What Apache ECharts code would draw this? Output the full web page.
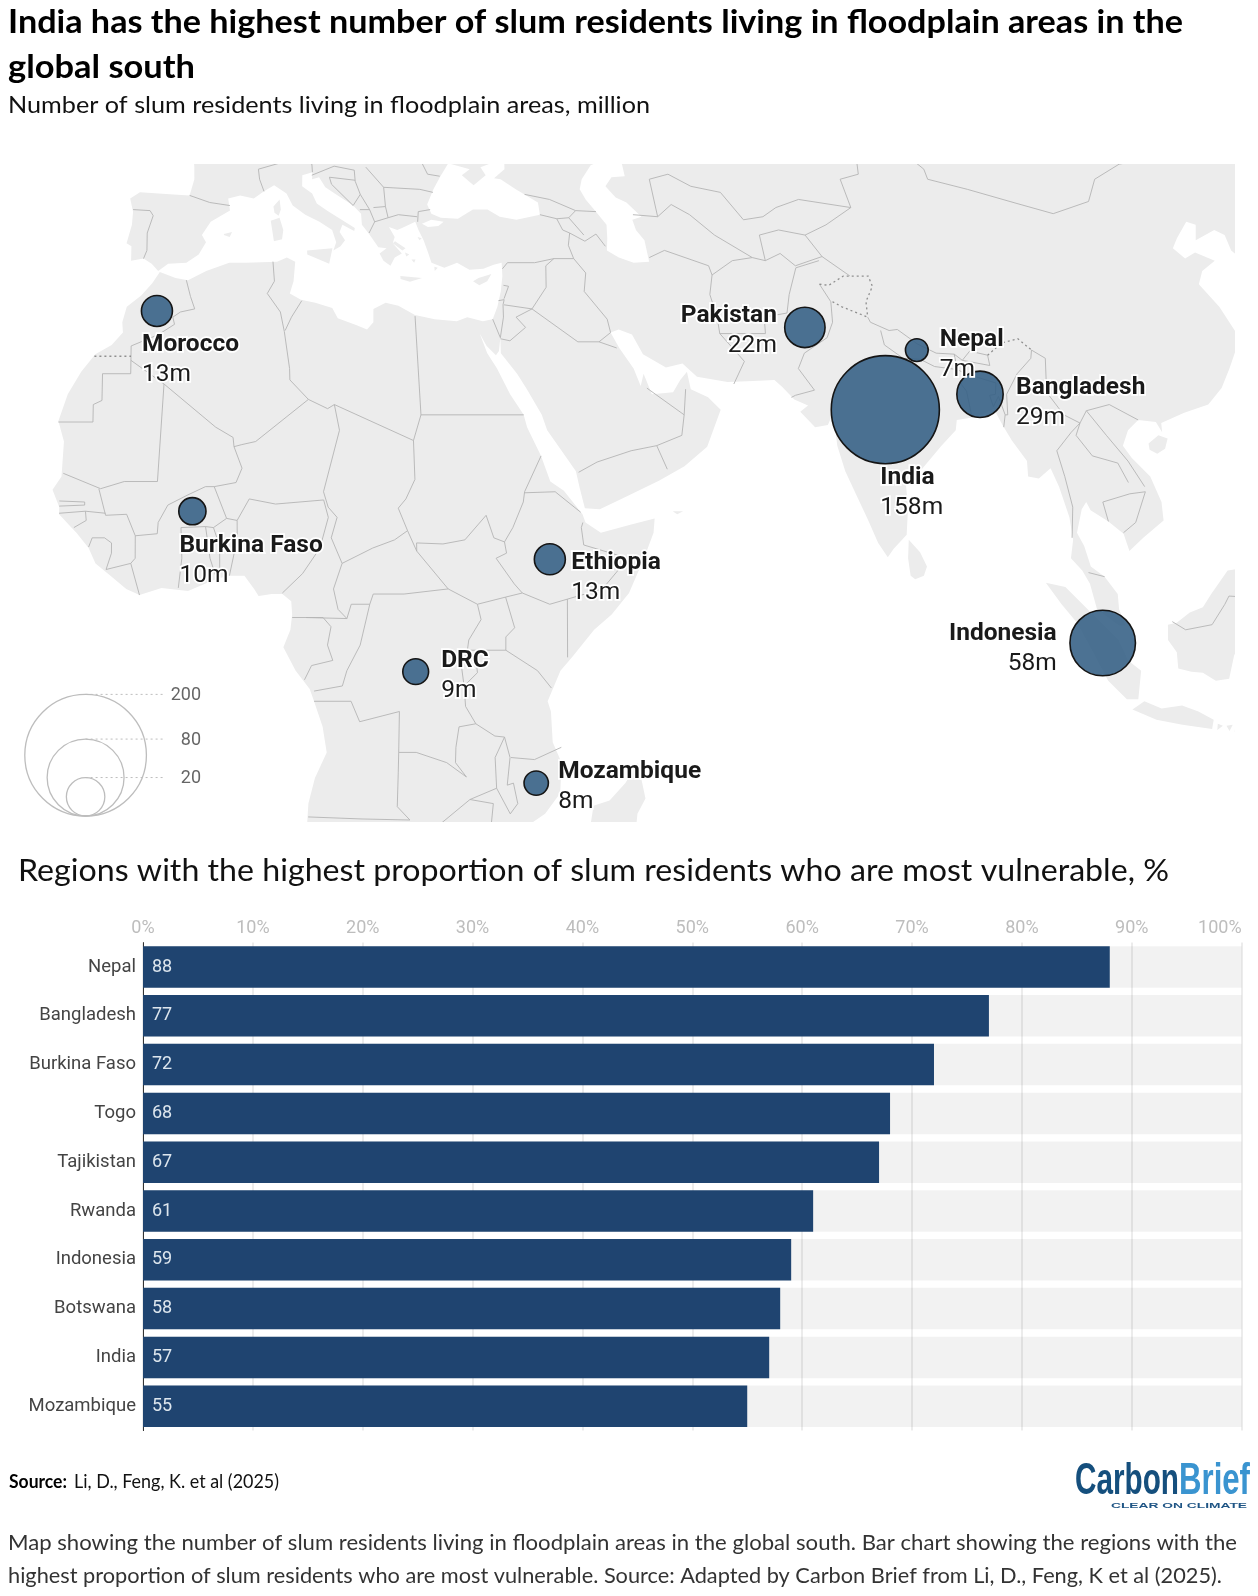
<!DOCTYPE html>
<html>
<head>
<meta charset="utf-8">
<script src="https://cdn.jsdelivr.net/npm/echarts@6/dist/echarts.min.js"></script>
<style>
  html, body { margin: 0; background: #fff; }
  #main { width: 1258px; height: 1596px; }
</style>
</head>
<body>
<div id="main"></div>
<script>
// map values, million people
const mapCountries = ['Morocco', 'Burkina Faso', 'Ethiopia', 'DRC', 'Mozambique', 'Pakistan', 'India', 'Nepal', 'Bangladesh', 'Indonesia']
const mapLon = [-5.7, -1.5, 39.1, 23.8, 37.8, 71.1, 78.9, 83.8, 90.2, 101.6]
const mapLat = [32.1, 12.6, 7.9, -3.1, -14.0, 30.5, 22.5, 28.3, 24.0, -0.3]
const mapMillions = [13, 10, 13, 9, 8, 22, 158, 7, 29, 58]
const sizeKey = [200, 80, 20]

// bar values, %
const barCountries = ['Nepal', 'Bangladesh', 'Burkina Faso', 'Togo', 'Tajikistan', 'Rwanda', 'Indonesia', 'Botswana', 'India', 'Mozambique']
const barValues = [88, 77, 72, 68, 67, 61, 59, 58, 57, 55]

// label placement relative to each bubble, same order as mapCountries
const labelDx = [-15, -13, 21.5, 25.5, 22, -28, -5, 23, 36, -46]
const labelDy = [18.5, 19.5, -11.5, -25.5, -26.5, -26.5, 53.5, -25.5, -21.5, -24.5]
const labelAlign = ['left', 'left', 'left', 'left', 'left', 'right', 'left', 'left', 'left', 'right']

// base map, rough hand outline in lon/lat
const mainland = [[-5,56],[-1.5,50],[-1.2,46.2],[-1.2,45],[-1.8,43.4],[-3.8,43.5],[-8,43.7],[-9.2,43.1],[-8.8,41.8],[-8.9,40.5],[-9.5,38.7],[-8.9,38.4],[-8.9,37],[-7.4,37.2],[-6.4,36.7],[-5.6,36],[-4.4,36.7],[-2.2,36.8],[-0.7,37.6],[0.2,38.8],[-0.3,39.5],[0.8,40.8],[3.2,41.9],[3,43.1],[4.5,43.4],[6.2,43.1],[7.5,43.8],[8.8,44.4],[10.3,43.6],[11,42.4],[12.5,41.5],[14.2,40.8],[15.7,40],[16.1,38.8],[15.7,38],[16.6,38.4],[17.2,39],[16.6,39.8],[17,40.5],[18.4,39.9],[18.5,40.2],[16,41.5],[15.2,41.9],[14,42.6],[13.5,43.6],[12.3,44.3],[12.4,45.4],[13.7,45.7],[13.6,45],[14.5,45.2],[15.2,44.2],[16.5,43.5],[18.5,42.4],[19.4,41.6],[19.4,40.5],[20.2,39.6],[21.2,38.3],[22.2,38.2],[21.3,37.7],[21.7,37],[22.5,36.5],[23.1,37.3],[24,37.7],[23,38.7],[23.3,39.3],[22.7,40.3],[23.7,40],[24.3,40.2],[26,40.8],[26.3,40],[26.8,39],[27.2,37.8],[27.5,36.8],[29,36.3],[30.6,36.8],[32,36.1],[33.7,36.2],[35,36.6],[36,36.8],[35.9,35.5],[35.5,34],[34.9,32.5],[34.2,31.3],[33,31.1],[31.2,31.5],[29.9,31.1],[27.3,31.3],[25,31.7],[23.1,32.6],[21.6,32.9],[20.1,32.3],[20,31],[19.2,30.3],[18,30.7],[15.8,31.4],[15.2,32.4],[13.2,32.9],[11.5,33.2],[10.2,33.8],[10.7,35],[11,36.9],[10,37.3],[8.8,36.9],[5,36.8],[3,36.8],[0.2,36],[-2,35.1],[-3.5,35.3],[-5.4,35.9],[-6.3,34.8],[-7.6,33.6],[-9.3,32.5],[-9.8,31],[-9.7,30],[-11,28.8],[-12.9,27.9],[-14.5,26.2],[-16,24],[-17,21.4],[-16.3,19.4],[-16.5,16],[-17.5,14.7],[-16.7,13],[-16.7,12.3],[-15.5,11.2],[-14.7,10.5],[-13.3,9],[-12.5,7.5],[-10.8,6.3],[-9,5],[-7.5,4.4],[-5,5.1],[-2,4.8],[1,5.9],[2.5,6.3],[4.4,6.3],[5.5,5],[6,4.3],[7.5,4.5],[8.7,4.5],[9.7,3.8],[9.8,2.5],[9.6,1],[8.8,-0.7],[10.2,-3],[11.8,-4.8],[12.3,-6],[13.3,-8.5],[13.8,-11],[12.5,-13.5],[11.8,-16],[11.7,-18],[12,-21],[36,-21],[35,-19.5],[36.5,-18.5],[39,-17],[40.6,-15],[40.6,-12],[39.5,-10],[39.2,-7],[38.8,-6],[39.5,-4.5],[40.2,-3],[41.5,-1.7],[44,1],[46,2.5],[48,4.6],[49.8,8],[51,10.5],[51.2,11.9],[48.5,11.3],[45,10.5],[43.3,11.5],[43,12.3],[41,14.6],[39.5,15.5],[38.6,18],[37.2,20.8],[36.9,22],[35.5,24],[34.2,26.5],[33.2,28],[32.5,29.9],[33.2,28.7],[34.2,27.8],[34.6,28.2],[34.9,29.5],[34.8,28],[36.5,26],[37.5,24.5],[39,22],[39.5,20.5],[41,18.5],[42.5,16.5],[42.8,15],[43.3,12.9],[45,12.8],[48,14],[52,15.6],[55,17],[57.8,18.9],[59.8,22.5],[58.5,23.7],[56.6,24.5],[56.4,26.2],[55.5,25.4],[54.5,24.2],[52,24],[51.3,26],[50.8,24.8],[50.2,26.5],[48.8,28.5],[48,30],[49,30.3],[50.5,29.8],[51.5,27.9],[54,26.6],[56,27],[57.5,25.7],[61,25.2],[64,25.3],[66.5,25.4],[67.3,24.7],[68.5,23.5],[70,22.9],[69,22.3],[70.5,20.8],[72,21],[72.6,21.9],[72.8,20.5],[72.8,19],[73.4,16.5],[74.5,14],[75.5,11.8],[76.5,9.5],[77.5,8.1],[78.2,8.9],[79.8,10.3],[80.2,13],[80.2,15.5],[82.2,16.7],[84.8,19],[86.7,20.5],[87,21.5],[88.5,21.7],[90,22],[91.5,22.6],[92.2,21],[93,19.5],[94.4,17.5],[94.3,16],[95.5,15.8],[97,16.8],[97.7,15],[98.5,12],[98.7,9.8],[98.3,8],[99.5,6.8],[100.3,5.5],[101,3],[103.5,1.4],[104.2,1.4],[103.5,3],[103.4,4.5],[102,6.2],[100.5,7.2],[99.9,9.2],[99.2,10.5],[100,12.8],[100.6,13.5],[101,12.7],[102.9,11.6],[104.5,10.4],[105,8.7],[106.7,10],[109.2,11.7],[109.2,13.5],[108.3,16],[106.5,17.8],[105.7,19],[106.6,20.5],[108,21.5],[110,21.3],[110.5,20.3],[110.6,21.2],[113.5,22.2],[116.5,23],[118.5,24.6],[120,26.5],[121.5,28.5],[122,30],[121,32.5],[119.5,34.7],[120.5,36],[122.5,37],[120.5,37.8],[119,37.2],[118,38.2],[119,39.2],[121,40.8],[122,40.5],[121.2,39],[124,40],[125,39.5],[125,38],[126,37],[126.5,34],[135,33],[135,56]]

const islands = [
  [[2.4,39.6],[3.4,39.8],[3.1,39.3],[2.4,39.5]],
  [[8.2,40.9],[9.3,41.2],[9.7,40],[9.5,39.1],[8.5,38.9]],
  [[8.6,42.3],[9.4,43],[9.5,42],[9.2,41.4],[8.7,41.7]],
  [[12.5,38],[15.6,38.2],[15.1,36.7],[12.5,37.6]],
  [[23.6,35.5],[26.2,35.3],[24.7,34.95],[23.6,35.2]],
  [[23.3,38.9],[24.5,38.2],[24.1,38],[23,38.7]],
  [[26.1,39.3],[26.6,39.2],[26.3,39]],
  [[25.1,37.1],[25.6,37.1],[25.4,36.8]],
  [[24.4,37.8],[24.9,37.6],[24.5,37.4]],
  [[27.8,36.4],[28.2,36.3],[27.8,36]],
  [[32.3,35],[33,35.3],[34.6,35.7],[34,35],[33,34.6]],
  [[53.3,12.6],[54.5,12.6],[53.8,12.3]],
  [[80,9.8],[81.2,8.6],[81.9,7.2],[81.5,6.3],[80.5,5.95],[80,6.3],[79.8,8]],
  [[95.3,5.6],[97.5,5.2],[100.3,2.7],[103.4,0],[104.5,-2],[106,-3],[105.8,-5.8],[104.5,-5.8],[102.3,-4],[100.4,-1],[98.7,1.7],[97,3.5]],
  [[105.2,-6.8],[106.5,-6],[108.5,-6.7],[110.8,-6.4],[112.7,-7],[114.5,-7.8],[114.4,-8.7],[111,-8.3],[108,-7.8]],
  [[115,-8.2],[115.6,-8.4],[115,-8.8]],
  [[116,-8.4],[116.7,-8.3],[116.4,-8.9]],
  [[117,-8.4],[119,-8.3],[119,-8.8],[117,-9]],
  [[109,1.5],[110,1.7],[111.5,2.7],[113,3.2],[114,4.5],[116,6.8],[117.5,7],[119,5.2],[118,4.2],[118,2.2],[119,1],[117.5,0],[116.5,-1.5],[116,-3.8],[114.5,-4],[113,-3.2],[111.7,-3.1],[110.2,-2.8],[110,-1.2],[109,0]],
  [[108.7,19.2],[110,20],[111,19.7],[110.5,18.7],[109.5,18.2],[108.7,18.6]],
  [[49.3,-12],[50.4,-15.5],[49.6,-17],[49.5,-21],[44,-21],[44.5,-16.2],[46.3,-15.7],[48,-14]]
]

const inlandSeas = [
  [[27.7,42.5],[28.1,41.6],[29.2,41.2],[31.3,41.1],[33.3,42],[35.1,42],[36.5,41.3],[38.5,41],[41.5,41.5],[41.5,42.7],[39,44],[37.3,45],[36.5,45.1],[38,46],[38.2,47.1],[35,46.2],[35.5,45.4],[33.8,44.4],[32.5,45.4],[33.6,46],[31,46.6],[29.7,45.2],[28.7,44]],
  [[47.5,45],[47,44],[47.5,43],[48.5,41.8],[49.5,40.5],[49.3,39.2],[49,38],[50.3,37.3],[52,36.8],[53.9,36.9],[53.8,39],[53,40],[52.8,41],[54,41.3],[52.5,42.7],[51.3,43.2],[50.3,44.3],[51.3,45.2],[53,45.3],[53,46.8],[51,47],[49,46.4]],
  [[26.8,40.6],[28,41],[29.5,40.8],[28.8,40.4],[27.5,40.3]]
]

const borders = [
  // north and west africa
  [[-2.2,35.1],[-1.7,33.5],[-1.2,32.3],[-2.9,32],[-3.8,31.5],[-3.6,30.8],[-5.5,29.8],[-8.7,28.7]],
  [[-8.7,28.7],[-8.7,26],[-12,26],[-12,23.4],[-13,23],[-13,21.3],[-17,21.3]],
  [[-8.7,27.3],[-4.8,25],[1.2,20.8],[3.2,19.8],[3.3,18.9],[4.2,19.1],[5.8,19.4],[12,23.5],[9.9,25.4],[9.9,26.5],[9.4,30.1],[9,32],[7.5,33.8],[8.4,35],[8.3,36.9]],
  [[-4.8,25],[-5.5,15.5],[-9.3,15.5],[-12,14.8],[-16.3,16.3]],
  [[9.5,30.2],[10.3,31.5],[11.6,33.1]],
  [[3.3,18.9],[4.2,16.8],[3.5,15.4],[1,15],[0,15],[-2,14.2],[-4.3,13.2],[-5.4,11.5],[-5.5,10.4],[-8,10.2],[-9,12.3],[-11.4,12.2],[-12.2,14.8]],
  [[12,23.5],[14.2,22.6],[15,23],[24,19.5],[25,22],[25,31.6]],
  [[25,22],[36.9,22]],
  [[15,23],[15.5,20.5],[13.5,14.5],[14,13],[15,12],[14.3,10],[15.5,7.5],[14.5,5],[15,3],[16,2.1]],
  [[24,19.5],[24,15.7],[22.9,13.8],[22,12.9],[23,10.7],[21.5,9.8],[19,9],[15.5,7.5]],
  [[2.7,6.3],[3.6,9.9],[3.6,11.7],[5,13.8],[8,13.3],[13.5,13.7],[14,12],[13,9],[11,6.5],[8.7,4.6]],
  [[9.8,2.2],[11.3,2.2],[16,2.1],[16.5,3.5],[18.6,3.5]],
  [[1.6,6.2],[1.6,9.2],[0.9,11]],
  [[1.2,6.1],[0.5,8],[0,11.1]],
  [[-3.1,5.1],[-2.7,8],[-2.8,11],[0,11.1],[0.9,11],[2.4,11.9],[3.6,11.7]],
  [[1,15],[2.4,11.9]],
  [[-8,10.2],[-8,8],[-8.5,7.5],[-7.5,4.4]],
  [[-8.5,7.5],[-11.3,6.9],[-10.7,8.5],[-10.7,9.5],[-11.5,10],[-12.9,10],[-13.3,9.1]],
  [[-11.4,12.4],[-13.7,12.6],[-16.7,12.4]],
  [[-13.7,12.6],[-13.6,11.7],[-15,11]],
  [[-16.7,13.6],[-13.8,13.5],[-13.8,13.2],[-16.7,13.1]],
  // central and east africa
  [[23,10.7],[24,8.7],[27.5,5],[30.8,3.5],[34,4.2],[35.9,4.6],[39,3.5],[41,4],[45,5],[48,8],[43,9.3],[42.8,11],[43,11.5]],
  [[18.6,3.5],[19,4.5],[22.5,4.5],[27.5,5]],
  [[18.6,3.5],[17.5,-0.5],[16,-3],[15.5,-4.5],[12.3,-5]],
  [[11.3,2.2],[13.3,2.2],[14.2,1.3],[13.8,-0.5],[14.4,-2],[12,-2.5],[11.2,-3.9]],
  [[24,8.7],[24,9.5],[27,9.4],[29.5,9.8],[32,12.2],[32.8,10],[34,9.6]],
  [[34,9.6],[35,11],[36.3,13.5],[36.5,14.5],[38.6,18]],
  [[36.5,14.4],[40,14.5],[42.8,12.5]],
  [[34,9.6],[34.2,8.5],[33,8],[35,5.5],[35.9,4.6]],
  [[41,4],[41,-1.7]],
  [[34,4.2],[35,1.2],[34,0.3],[34,-1]],
  [[30.8,3.5],[31.2,2],[29.8,0],[29.6,-1.3],[29,-2.7],[29.3,-4.5],[29.5,-6.5],[30.7,-8.2],[28.8,-8.5],[28.5,-10.5],[28.5,-12],[29.8,-13.4],[27.5,-12],[24,-11],[22,-11],[22,-7],[17.5,-8],[16.5,-6],[12.3,-6]],
  [[30,-1],[34,-1],[37.6,-3],[39.2,-4.7]],
  [[29.3,-4.5],[30.8,-3.2],[30.5,-1.1]],
  [[22,-11],[22,-13],[22,-16.3],[23.5,-17.6],[18,-17.5],[11.8,-17.3]],
  [[30.7,-8.2],[32.9,-9.4],[34,-9.5],[34.7,-11.5],[34.5,-14.2],[35.2,-14],[35.8,-16],[35,-17],[33.3,-14.5],[33,-11.5],[34,-9.5]],
  [[34.8,-11.5],[37.5,-11.7],[40.5,-10.5]],
  [[33.3,-14.5],[30.3,-15.6],[33,-16],[32.8,-19.5]],
  [[30.3,-15.6],[27,-18],[25.5,-18.2]],
  // middle east and caucasus
  [[34.2,31.3],[34.9,29.5],[35.5,31.5],[35.6,32.7],[35.8,33.2],[35.1,33.1]],
  [[35.9,34.6],[36.5,34.5],[35.8,33.3]],
  [[35.7,32.7],[39,32.3],[37,31.5],[38,30.5],[36,29.2],[34.9,29.4]],
  [[39,32.3],[41,34.4],[41.3,36.5],[42.4,37.2],[40,36.8],[36.7,36.8],[36,36.2]],
  [[39,32.3],[44,29.1],[46.5,29.1],[48.5,28.5]],
  [[46.5,29.1],[48,30],[47.8,31.3],[45.5,34],[46,35.8],[44.8,37.2],[42.4,37.2]],
  [[44.8,37.2],[44.4,38.5],[44.8,39.7],[46.5,38.9],[48,39.6],[48.9,38.4]],
  [[41.5,41.5],[43.5,41.1],[44,40],[44.8,39.7]],
  [[43.5,41.1],[45,41.2],[46.5,39.5]],
  [[40,43.5],[43,43],[46,41.9],[48.5,41.8]],
  [[45,41.2],[46,41.9]],
  [[51.5,24.6],[55.5,22],[55,20],[52,19],[53,16.7]],
  [[45,17.4],[49,18.5],[52,19]],
  [[42.8,16.4],[45,17.4]],
  [[55.5,22],[56,24.5]],
  // europe
  [[28,42],[26.5,41.8],[26.3,40.8]],
  [[26.3,41.3],[24,41.5],[22.7,41.2],[21,40.8],[20.2,39.7]],
  [[21,40.8],[20.5,42],[19.3,42]],
  [[22.7,41.2],[22.5,42.3],[21,42.2]],
  [[22.5,42.3],[22.5,44.2],[27,44],[28.6,43.7]],
  [[19,44.8],[19.5,43.5],[18.5,42.4],[16,44.5],[15.8,45.2],[19,44.9]],
  [[19.5,43.5],[20.5,42]],
  [[13.6,45.4],[16.5,46.3],[19,45.9],[19,44.8]],
  [[22.5,44.2],[20.5,46.2]],
  [[7.5,43.8],[7,45],[6.9,46],[10.5,46.8],[12.3,47],[13.7,46.5],[13.7,45.7]],
  [[-1.8,43.4],[0.7,42.7],[3.2,42.4]],
  [[-8.8,42],[-6.7,41.9],[-6.3,41.4],[-7,39.7],[-7,38],[-7.4,37.2]],
  [[29.7,45.3],[28.2,45.5],[27,48]],
  // central asia
  [[54,37.3],[56,38],[61,36.5],[61.2,35.6],[60.5,33.7],[60.9,31.5],[60.9,29.9],[63.3,27.2],[61.7,25]],
  [[60.9,29.9],[66.3,29.9],[66.5,31.5],[69.3,31.9],[70,33.7],[71.5,36.3],[74.5,37]],
  [[61.2,35.6],[64,37],[66.5,37.3],[68,37],[70,37.7],[71.5,36.5]],
  [[53,41.5],[56,41.3],[58,42.5],[60,41.5],[62.5,39.5],[66.5,37.3]],
  [[56,45],[56,41.3]],
  [[56,45],[58.5,45.5],[61,44.3],[64.5,43.7],[66.5,41],[69,41.3],[70.9,42.2],[74,43],[80.2,42.2],[80,45],[82.5,45.5],[83,47.2],[85.5,47.2],[87.3,49]],
  [[68,37],[68,39.5],[70.5,40],[73.6,39.5],[75,37.4],[71.5,36.5]],
  [[73.6,39.5],[76.5,40.5],[80.2,42.2]],
  [[87.8,49],[91,46],[91,45],[95.5,44],[101,42.6],[105,41.6],[110,42.8],[112,45],[116,46.5],[119.8,47],[120,49]],
  // south asia
  [[73.9,34.7],[74.8,33],[74.5,31],[73.5,29.5],[70.5,28],[69.5,26.5],[71,24.4],[68.7,23.9],[68.2,23.7]],
  [[75,37.4],[77.8,35.5]],
  [[78.8,31.5],[79,31],[81,30.2],[82,30.3],[84,28.9],[86,28],[88.1,27.9],[88.9,27.3],[90,28.2],[92,27.8],[92,26.8],[88.9,27.3]],
  [[80,30.2],[80.1,28.8],[82,27.5],[84,27.4],[85.5,26.7],[88.1,26.4],[88.1,27.9]],
  [[88.1,26.4],[89,26],[88.2,25],[88.7,24.3],[88.8,22]],
  [[89,26],[92.3,25.1],[92,24],[91.3,23.9],[91.5,22.8],[92.3,23.8],[92.7,22],[92.3,20.8]],
  [[92.7,22],[93,22],[93.3,24],[95,26],[97,27.5],[97.3,28.3],[98.7,27.5],[98,24.2],[99.5,22],[101.2,21.2]],
  // south east asia
  [[101.2,21.2],[100,20.3],[98,18.5],[98.5,16],[99,13],[98.6,10]],
  [[101.2,21.2],[100.5,20],[102,18],[104.8,17.3],[105.7,15.4]],
  [[102.2,22.4],[104,20],[106,17.5],[107.5,15]],
  [[101.2,21.2],[102.2,22.4],[105,23],[108,21.5]],
  [[102.9,11.6],[102.5,13.5],[105.7,14.3],[107.5,14.5],[106,11.5],[104.5,10.5]],
  [[100.2,6.6],[102,6.2]],
  [[109.5,1.8],[111,1],[114,1.5],[115.5,3.5],[116,4.3],[118,4.2]]
]

// disputed borders, drawn dotted
const disputed = [
  [[73.9,34.7],[75,34.6],[77,35.5],[78,35.5],[80,35.5],[80.2,34.5],[79,33],[78.8,31.5]],
  [[75,33],[76,32.5],[78.8,31.5]],
  [[92,27.8],[94,29],[96,29.4],[97.3,28.3]],
  [[-13,27.7],[-8.7,27.7]]
]

// Natural Earth projection, scaled to page pixels. y comes back negated
// because geo flips latitude on its own
const CENTER_LON = -2
const MAP_X = 188
const MAP_Y = 640
const MAP_SCALE = 581
function project(lon, lat) {
  const phi = lat * Math.PI / 180
  const p2 = phi * phi
  const p4 = p2 * p2
  const kx = 0.8707 - 0.131979 * p2 + p4 * (-0.013791 + p4 * (0.003971 * p2 - 0.001529 * p4))
  const ky = 1.007226 + p2 * (0.015085 + p4 * (-0.044475 + 0.028874 * p2 - 0.005916 * p4))
  return [MAP_X + MAP_SCALE * (lon - CENTER_LON) * Math.PI / 180 * kx, -(MAP_Y - MAP_SCALE * phi * ky)]
}
const projectLine = line => line.map(p => project(p[0], p[1]))

echarts.registerMap('base', {
  type: 'FeatureCollection',
  features: [
    { type: 'Feature', properties: { name: 'land' },
      geometry: { type: 'MultiPolygon', coordinates: [mainland].concat(islands).map(r => [projectLine(r)]) } },
    { type: 'Feature', properties: { name: 'sea' },
      geometry: { type: 'MultiPolygon', coordinates: inlandSeas.map(r => [projectLine(r)]) } }
  ]
})

const bubbleSize = v => 8.6 * Math.sqrt(v)

// text is squeezed to the measured width, none of the fonts here has the PT Sans widths
const ctx = document.createElement('canvas').getContext('2d')
function text(str, x, baseline, size, family, fill, width, weight) {
  const font = `${weight || 'normal'} ${size}px ${family}`
  ctx.font = font
  const el = {
    type: 'text', z: 20, x: x, y: baseline - size * 0.33,
    style: { text: str, font: font, fill: fill, textVerticalAlign: 'middle' }
  }
  if (width) el.scaleX = width / ctx.measureText(str).width
  return el
}

const SANS = 'Lato'
const LOGO = '"Liberation Sans"'
const graphics = [
  // masks that crop the land to the map frame
  { type: 'rect', z: 5, shape: { x: 0, y: 0, width: 1258, height: 164 }, style: { fill: '#fff' } },
  { type: 'rect', z: 5, shape: { x: 0, y: 822, width: 1258, height: 70 }, style: { fill: '#fff' } },
  { type: 'rect', z: 5, shape: { x: 1235, y: 160, width: 23, height: 670 }, style: { fill: '#fff' } },

  text('India has the highest number of slum residents living in floodplain areas in the', 8, 33, 33, SANS, '#000', 1175, 'bold'),
  text('global south', 8, 78, 33, SANS, '#000', 187, 'bold'),
  text('Number of slum residents living in floodplain areas, million', 8, 113, 23, SANS, '#111', 642),
  text('Regions with the highest proportion of slum residents who are most vulnerable, %', 18, 881, 31, SANS, '#111', 1151),
  text('Source:', 9, 1488, 18.5, SANS, '#000', 58, 'bold'),
  text('Li, D., Feng, K. et al (2025)', 74, 1488, 18.5, SANS, '#111', 205),
  text('Map showing the number of slum residents living in floodplain areas in the global south. Bar chart showing the regions with the', 8, 1550, 21.5, SANS, '#333', 1229),
  text('highest proportion of slum residents who are most vulnerable. Source: Adapted by Carbon Brief from Li, D., Feng, K et al (2025).', 8, 1583, 21.5, SANS, '#333', 1214),
  text('Carbon', 1075, 1496, 45, LOGO, '#154f7d', 104, 'bold'),
  text('Brief', 1179, 1496, 45, LOGO, '#3a94d0', 71, 'bold'),
  text('CLEAR ON CLIMATE', 1111, 1508, 6.5, LOGO, '#1f5585', 136, 'bold')
]

// size key in the map corner
const KEY_X = 85.6
const KEY_BOTTOM = 816
sizeKey.forEach(v => {
  const r = bubbleSize(v) / 2
  graphics.push({
    type: 'circle', z: 20, shape: { cx: KEY_X, cy: KEY_BOTTOM - r, r: r },
    style: { fill: 'none', stroke: '#bdbdbd', lineWidth: 1.3 }
  })
  graphics.push({
    type: 'line', z: 20, shape: { x1: KEY_X, y1: KEY_BOTTOM - 2 * r, x2: 163, y2: KEY_BOTTOM - 2 * r },
    style: { stroke: '#bdbdbd', lineWidth: 1, lineDash: [2, 3] }
  })
  graphics.push({
    type: 'text', z: 20, x: 201, y: KEY_BOTTOM - 2 * r + 1,
    style: { text: String(v), font: '18px Roboto', fill: '#666', textAlign: 'right', textVerticalAlign: 'middle' }
  })
})

const bubbleData = mapCountries.map((name, i) => ({
  name: name,
  value: project(mapLon[i], mapLat[i]).concat(mapMillions[i]),
  label: {
    offset: [labelDx[i], labelDy[i]],
    align: labelAlign[i],
    rich: {
      b: { fontFamily: 'Roboto', fontWeight: 'bold', fontSize: 24.5, lineHeight: 30, color: '#1a1a1a', align: labelAlign[i], textBorderColor: '#fff', textBorderWidth: 3.5 },
      v: { fontFamily: 'Roboto', fontSize: 24.5, lineHeight: 30, color: '#1a1a1a', align: labelAlign[i], textBorderColor: '#fff', textBorderWidth: 3.5 }
    }
  }
}))

var myChart = echarts.init(document.getElementById('main'))

myChart.setOption({
  animation: false,
  backgroundColor: '#fff',
  graphic: { elements: graphics },
  geo: {
    map: 'base',
    silent: true,
    roam: false,
    aspectScale: 1,
    boundingCoords: [[0, -164], [1258, -822]],
    left: 0,
    top: 164,
    width: 1258,
    height: 658,
    itemStyle: { areaColor: '#ececec', borderWidth: 0 },
    regions: [{ name: 'sea', itemStyle: { areaColor: '#fff', borderWidth: 0 } }],
    emphasis: { disabled: true },
    label: { show: false }
  },
  grid: { left: 143, right: 16.4, top: 942.6, height: 488 },
  xAxis: {
    type: 'value',
    position: 'top',
    min: 0,
    max: 100,
    interval: 10,
    axisLine: { show: false },
    axisTick: { show: false },
    axisLabel: { formatter: '{value}%', color: '#bdbdbd', fontFamily: 'Roboto', fontSize: 18, margin: 5, alignMaxLabel: 'right' },
    splitLine: { lineStyle: { color: '#e6e6e6', width: 1.5 } }
  },
  yAxis: {
    type: 'category',
    inverse: true,
    data: barCountries,
    axisLine: { lineStyle: { color: '#333', width: 1 } },
    axisTick: { show: false },
    axisLabel: { color: '#444', fontFamily: 'Roboto', fontSize: 18.5, margin: 7 }
  },
  series: [
    {
      type: 'lines',
      coordinateSystem: 'geo',
      polyline: true,
      silent: true,
      z: 2,
      lineStyle: { color: '#b4b4b4', width: 0.9, opacity: 1 },
      data: borders.map(b => ({ coords: projectLine(b) }))
    },
    {
      type: 'lines',
      coordinateSystem: 'geo',
      polyline: true,
      silent: true,
      z: 2,
      lineStyle: { color: '#8f8f8f', width: 1.3, type: [2, 3], opacity: 1 },
      data: disputed.map(b => ({ coords: projectLine(b) }))
    },
    {
      type: 'scatter',
      coordinateSystem: 'geo',
      z: 10,
      silent: true,
      symbolSize: d => bubbleSize(d[2]),
      itemStyle: { color: 'rgba(51,94,132,0.88)', borderColor: '#151515', borderWidth: 1.6, opacity: 1 },
      label: {
        show: true,
        position: 'inside',
        verticalAlign: 'top',
        formatter: p => `{b|${p.name}}\n{v|${p.value[2]}m}`
      },
      data: bubbleData
    },
    {
      type: 'bar',
      data: barValues,
      barWidth: 41.5,
      silent: true,
      showBackground: true,
      backgroundStyle: { color: 'rgba(0,0,0,0.05)' },
      itemStyle: { color: '#1f4470' },
      label: {
        show: true,
        position: 'insideLeft',
        distance: 9,
        color: '#dde6ee',
        fontFamily: 'Roboto',
        fontSize: 18
      }
    }
  ]
})
</script>
</body>
</html>
